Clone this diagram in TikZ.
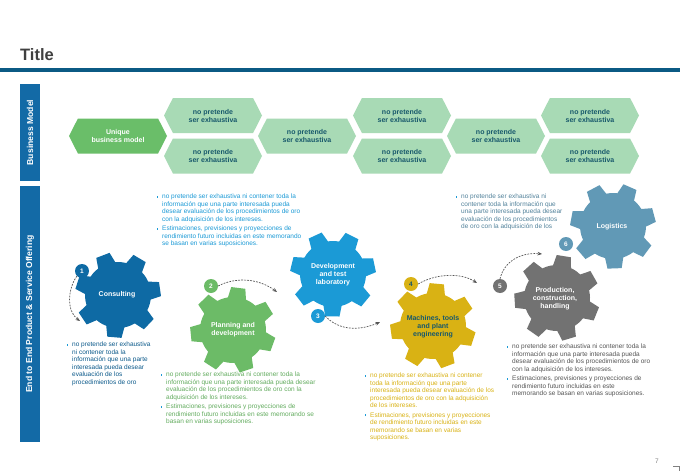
\documentclass[tikz,border=0pt]{standalone}
\usepackage{fontspec}
\setmainfont{Liberation Sans}
\usetikzlibrary{shapes.symbols,arrows.meta}

\definecolor{titlegray}{RGB}{64,64,64}
\definecolor{rulebl}{RGB}{11,90,132}
\definecolor{barbl}{RGB}{19,106,166}
\definecolor{bmgreen}{RGB}{106,190,105}
\definecolor{bmlight}{RGB}{168,218,181}
\definecolor{bmtext}{RGB}{23,88,107}
\definecolor{consultc}{RGB}{14,106,164}
\definecolor{planc}{RGB}{108,187,103}
\definecolor{devc}{RGB}{27,154,214}
\definecolor{machc}{RGB}{217,178,20}
\definecolor{prodc}{RGB}{114,114,114}
\definecolor{logic}{RGB}{97,153,182}
\definecolor{arrgray}{RGB}{85,85,85}
\definecolor{bulc}{RGB}{27,154,214}

% gear: centre x, centre y, rotation, colour
\newcommand{\drawgear}[4]{%
  \begin{scope}[shift={(#1,#2)}, rotate=#3]
    \fill[#4] (-16:33) \foreach \t in {0,...,6}{
      -- (\t*51.43-16:33) -- (\t*51.43-9.5:43) -- (\t*51.43+9.5:43) -- (\t*51.43+16:33)
      -- (\t*51.43+23:33) -- (\t*51.43+29:33)} -- cycle;
  \end{scope}}
% small square bullet
\newcommand{\bul}{\llap{\textcolor{bulc}{\rule[1.2pt]{1.8pt}{1.8pt}}\hspace{3.8pt}}}

\begin{document}
\begin{tikzpicture}[x=1pt, y=-1pt,
  sidebar/.style={fill=barbl, rotate=90, minimum height=20pt, inner sep=0pt,
    text=white, font=\fontsize{8.6}{10}\selectfont\bfseries},
  hexbm/.style={shape=signal, signal to=east and west, signal pointer angle=126,
    minimum width=98pt, minimum height=35pt, inner sep=0pt, fill=bmlight,
    text=bmtext, align=center, font=\fontsize{7}{8}\selectfont\bfseries},
  gearlbl/.style={align=center, text=white, font=\fontsize{7}{8}\selectfont\bfseries},
  numc/.style={circle, inner sep=0pt, minimum size=14pt, text=white,
    font=\fontsize{6.5}{7}\selectfont\bfseries},
  txtblk/.style={anchor=north west, inner sep=0pt, align=left,
    font=\fontsize{6.5}{7.45}\selectfont},
  dasharr/.style={draw=arrgray, line width=0.7pt, dash pattern=on 1.8pt off 1.2pt,
    -{Stealth[length=4.5pt,width=3.6pt]}}]

  \fill[white] (0,0) rectangle (680,471);
  \useasboundingbox (0,0) rectangle (680,471);

  % Title and rule
  \node[anchor=base west, inner sep=0pt, text=titlegray,
    font=\fontsize{16.5}{18}\selectfont\bfseries] (title) at (20,60) {Title};
  \fill[rulebl] (0,68) rectangle (680,72);

  % Side bars
  \node[sidebar, minimum width=97pt] (bmbar) at (30,132.5) {Business Model};
  \node[sidebar, minimum width=256pt] (e2ebar) at (30,314) {End to End Product \& Service Offering};

  % Business model row
  \node[hexbm, fill=bmgreen, text=white] (unique) at (118,136) {Unique\\business model};
  \node[hexbm] (bm2a) at (213,115.5) {no pretende\\ser exhaustiva};
  \node[hexbm] (bm2b) at (213,156) {no pretende\\ser exhaustiva};
  \node[hexbm] (bm3) at (307,136) {no pretende\\ser exhaustiva};
  \node[hexbm] (bm4a) at (402,115.5) {no pretende\\ser exhaustiva};
  \node[hexbm] (bm4b) at (402,156) {no pretende\\ser exhaustiva};
  \node[hexbm] (bm5) at (496,136) {no pretende\\ser exhaustiva};
  \node[hexbm] (bm6a) at (590,115.5) {no pretende\\ser exhaustiva};
  \node[hexbm] (bm6b) at (590,156) {no pretende\\ser exhaustiva};

  % Gears
  \drawgear{118}{295}{8}{consultc}
  \drawgear{233}{330}{-20}{planc}
  \drawgear{333}{274}{12}{devc}
  \drawgear{433}{326}{-18}{machc}
  \drawgear{557}{298}{-22}{prodc}
  \drawgear{613}{226}{15}{logic}

  \node[gearlbl] (consult) at (117,295) {Consulting};
  \node[gearlbl] (plan) at (233,330) {Planning and\\development};
  \node[gearlbl] (dev) at (333,275) {Development\\and test\\laboratory};
  \node[gearlbl, text=bmtext] (mach) at (433,327) {Machines, tools\\and plant\\engineering};
  \node[gearlbl] (prod) at (555,299) {Production,\\construction,\\handling};
  \node[gearlbl] (logi) at (612,227) {Logistics};

  % Step numbers
  \node[numc, fill=consultc] (n1) at (82,271) {1};
  \node[numc, fill=planc] (n2) at (211,286) {2};
  \node[numc, fill=devc] (n3) at (318,316) {3};
  \node[numc, fill=machc, text=bmtext] (n4) at (411,284) {4};
  \node[numc, fill=prodc] (n5) at (500,286) {5};
  \node[numc, fill=logic] (n6) at (566,244) {6};

  % Arrow ends
  \coordinate (e1) at (80,321);
  \coordinate (e2) at (277,292);
  \coordinate (e3) at (380,322);
  \coordinate (e4) at (477,283);
  \coordinate (e5) at (542,254);

  \draw[dasharr] (n1.south west) .. controls (68,288) and (66,311) .. (e1);
  \draw[dasharr] (n2.east) .. controls (235,277) and (258,278) .. (e2);
  \draw[dasharr] (n3.east) .. controls (340,332) and (362,330) .. (e3);
  \draw[dasharr] (n4.east) .. controls (435,274) and (460,272) .. (e4);
  \draw[dasharr] (n5.north) .. controls (504,262) and (520,252) .. (e5);

  % Text blocks
  \node[txtblk, text=devc] (devtxt) at (162,194) {\bul no pretende ser exhaustiva ni contener toda la\\
    información que una parte interesada pueda\\
    desear evaluación de los procedimientos de oro\\
    con la adquisición de los intereses.\\[2.2pt]
    \bul Estimaciones, previsiones y proyecciones de\\
    rendimiento futuro incluidas en este memorando\\
    se basan en varias suposiciones.};
  \node[txtblk, text=logic!85!black] (logitxt) at (461,194) {\bul no pretende ser exhaustiva ni\\
    contener toda la información que\\
    una parte interesada pueda desear\\
    evaluación de los procedimientos\\
    de oro con la adquisición de los};
  \node[txtblk, text=consultc!85!black] (consulttxt) at (72,342) {\bul no pretende ser exhaustiva\\
    ni contener toda la\\
    información que una parte\\
    interesada pueda desear\\
    evaluación de los\\
    procedimientos de oro};
  \node[txtblk, text=planc!92!black] (plantxt) at (166,372) {\bul no pretende ser exhaustiva ni contener toda la\\
    información que una parte interesada pueda desear\\
    evaluación de los procedimientos de oro con la\\
    adquisición de los intereses.\\[2.2pt]
    \bul Estimaciones, previsiones y proyecciones de\\
    rendimiento futuro incluidas en este memorando se\\
    basan en varias suposiciones.};
  \node[txtblk, text=machc] (machtxt) at (370,373) {\bul no pretende ser exhaustiva ni contener\\
    toda la información que una parte\\
    interesada pueda desear evaluación de los\\
    procedimientos de oro con la adquisición\\
    de los intereses.\\[2.2pt]
    \bul Estimaciones, previsiones y proyecciones\\
    de rendimiento futuro incluidas en este\\
    memorando se basan en varias\\
    suposiciones.};
  \node[txtblk, text=prodc!75!black] (prodtxt) at (512,344) {\bul no pretende ser exhaustiva ni contener toda la\\
    información que una parte interesada pueda\\
    desear evaluación de los procedimientos de oro\\
    con la adquisición de los intereses.\\[2.2pt]
    \bul Estimaciones, previsiones y proyecciones de\\
    rendimiento futuro incluidas en este\\
    memorando se basan en varias suposiciones.};

  % Page number and corner mark
  \node[inner sep=0pt, text=gray, font=\fontsize{6.5}{7}\selectfont] (pgno) at (657,461) {7};
  \draw[gray, line width=0.8pt] (673,466) -- (679,466) -- (679,471);
\end{tikzpicture}
\end{document}
